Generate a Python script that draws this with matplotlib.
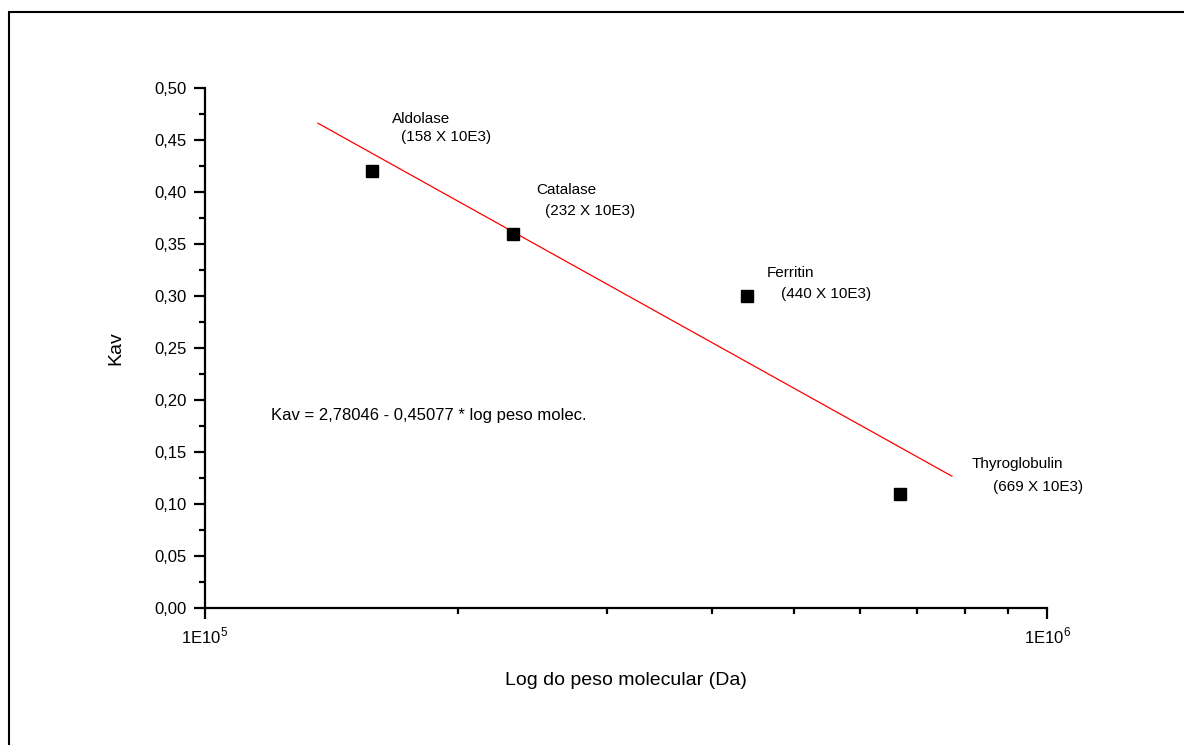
import matplotlib
matplotlib.use("Agg")
import matplotlib.pyplot as plt
import numpy as np
from matplotlib.patches import Rectangle
from matplotlib.ticker import FixedLocator, FuncFormatter, MultipleLocator

plt.rcParams['font.family'] = ['Liberation Sans', 'DejaVu Sans']
plt.rcParams['mathtext.fontset'] = 'custom'
plt.rcParams['mathtext.rm'] = 'Liberation Sans'

# data
proteins = ["Aldolase", "Catalase", "Ferritin", "Thyroglobulin"]
mw_labels = ["(158 X 10E3)", "(232 X 10E3)", "(440 X 10E3)", "(669 X 10E3)"]
mol_weight = [158e3, 232e3, 440e3, 669e3]
kav = [0.42, 0.36, 0.30, 0.11]

# linear fit shown on the chart
intercept = 2.78046
slope = -0.45077
fit_x = np.array([1.362e5, 7.71e5])

fig = plt.figure(figsize=(11.84, 7.45), dpi=100)
ax = fig.add_axes([0.1731, 0.1839, 0.7112, 0.6980])

ax.plot(fit_x, intercept + slope * np.log10(fit_x), color="red", lw=0.9)
ax.plot(mol_weight, kav, "s", color="black", ms=8)

ax.set_xscale("log")
ax.set_xlim(1e5, 1e6)
ax.set_ylim(0, 0.5)

ax.xaxis.set_major_locator(FixedLocator([1e5, 1e6]))
ax.xaxis.set_minor_locator(FixedLocator([k * 1e5 for k in range(2, 10)]))
ax.xaxis.set_major_formatter(FuncFormatter(lambda v, p: "1E10$^{%d}$" % round(np.log10(v))))
ax.xaxis.set_minor_formatter(FuncFormatter(lambda v, p: ""))
ax.yaxis.set_major_locator(MultipleLocator(0.05))
ax.yaxis.set_minor_locator(MultipleLocator(0.025))
ax.yaxis.set_major_formatter(FuncFormatter(lambda v, p: ("%.2f" % v).replace(".", ",")))

for s in ["top", "right"]:
    ax.spines[s].set_visible(False)
for s in ["left", "bottom"]:
    ax.spines[s].set_linewidth(1.6)

ax.tick_params(which="major", direction="out", length=8, width=1.6, labelsize=12, pad=5)
ax.tick_params(which="minor", direction="out", length=4, width=1.6)

ax.set_xlabel("Log do peso molecular (Da)", fontsize=14, labelpad=18)
ax.set_ylabel("Kav", fontsize=14, labelpad=22)

# annotations (axes coords)
name_pos = [(0.222, 0.940), (0.394, 0.804), (0.667, 0.644), (0.910, 0.277)]
mw_pos = [(0.233, 0.906), (0.404, 0.763), (0.684, 0.604), (0.936, 0.233)]
for name, mw, npos, mpos in zip(proteins, mw_labels, name_pos, mw_pos):
    ax.text(npos[0], npos[1], name, transform=ax.transAxes, fontsize=11, va="center")
    ax.text(mpos[0], mpos[1], mw, transform=ax.transAxes, fontsize=11, va="center")

ax.text(0.078, 0.371, "Kav = 2,78046 - 0,45077 * log peso molec.",
        transform=ax.transAxes, fontsize=12, va="center")

# outer frame
fig.patches.append(Rectangle((9 / 1184, -0.05), 1.1, 1 - 12 / 745 + 0.05,
                             transform=fig.transFigure, fill=False,
                             edgecolor="black", lw=1.5))

fig.savefig("out.png", dpi=100)
